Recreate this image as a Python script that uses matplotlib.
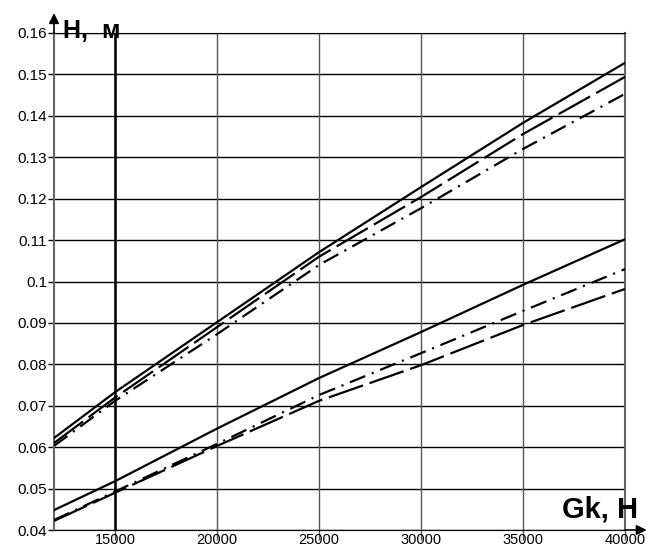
import matplotlib
matplotlib.use("Agg")
import matplotlib.pyplot as plt

plt.rcParams['font.family'] = ['Liberation Sans', 'DejaVu Sans']
plt.rcParams['lines.scale_dashes'] = False

# Data
gk = [12000, 15000, 20000, 25000, 30000, 35000, 40000]

upper_solid   = [0.0622, 0.0733, 0.0902, 0.1071, 0.1228, 0.1383, 0.1528]
upper_dashed  = [0.0610, 0.0720, 0.0890, 0.1060, 0.1204, 0.1356, 0.1494]
upper_dashdot = [0.0603, 0.0712, 0.0873, 0.1040, 0.1177, 0.1320, 0.1453]

lower_solid   = [0.0448, 0.0518, 0.0645, 0.0767, 0.0878, 0.0992, 0.1102]
lower_dashdot = [0.0424, 0.0493, 0.0608, 0.0726, 0.0827, 0.0929, 0.1030]
lower_dashed  = [0.0422, 0.0490, 0.0603, 0.0712, 0.0798, 0.0895, 0.0982]

xticks = [15000, 20000, 25000, 30000, 35000, 40000]
yticks = [0.04, 0.05, 0.06, 0.07, 0.08, 0.09, 0.10, 0.11, 0.12, 0.13, 0.14, 0.15, 0.16]
ytick_labels = ['0.04', '0.05', '0.06', '0.07', '0.08', '0.09', '0.1', '0.11',
                '0.12', '0.13', '0.14', '0.15', '0.16']
xlabel = 'Gk, H'
ylabel = 'H,  м'

W, H = 647, 552
fig = plt.figure(figsize=(W / 100, H / 100), dpi=100)
L, R, T, B = 54, 625, 33, 530
ax = fig.add_axes([L / W, 1 - B / H, (R - L) / W, (B - T) / H])

ax.set_xlim(12000, 40000)
ax.set_ylim(0.04, 0.16)

# grid
for y in yticks:
    ax.axhline(y, color='black', lw=1.0, zorder=1)
for x in xticks:
    ax.axvline(x, color='#555555', lw=1.0, zorder=1)
ax.axvline(15000, color='black', lw=1.8, zorder=1)

lw = 1.6
dashed = (26, 5)
dashdot = (12, 5, 1.5, 5)
ax.plot(gk, upper_solid, color='black', lw=lw, zorder=3)
ax.plot(gk, upper_dashed, color='black', lw=lw, dashes=dashed, zorder=3)
ax.plot(gk, upper_dashdot, color='black', lw=lw, dashes=dashdot, zorder=3)
ax.plot(gk, lower_solid, color='black', lw=lw, zorder=3)
ax.plot(gk, lower_dashdot, color='black', lw=lw, dashes=dashdot, zorder=3)
ax.plot(gk, lower_dashed, color='black', lw=lw, dashes=dashed, zorder=3)

ax.set_xticks(xticks)
ax.set_xticklabels([str(v) for v in xticks])
ax.set_yticks(yticks)
ax.set_yticklabels(ytick_labels)
ax.tick_params(axis='x', direction='out', length=7, width=1, color='#555555',
               labelsize=10.5, pad=-5)
ax.tick_params(axis='y', direction='out', length=4, width=1, color='black',
               labelsize=11, pad=1)

for s in ['left', 'right']:
    ax.spines[s].set_color('#666666')
    ax.spines[s].set_linewidth(1.5)
ax.spines['top'].set_color('black')
ax.spines['bottom'].set_color('black')

# axis arrows
ax.annotate('', xy=(0, 1.04), xytext=(0, 1.0), xycoords='axes fraction',
            arrowprops=dict(arrowstyle='-|>', mutation_scale=15, color='black', lw=1.2,
                            shrinkA=0, shrinkB=0), annotation_clip=False)
ax.annotate('', xy=(1.038, 0), xytext=(1.0, 0), xycoords='axes fraction',
            arrowprops=dict(arrowstyle='-|>', mutation_scale=15, color='black', lw=1.2,
                            shrinkA=0, shrinkB=0), annotation_clip=False)

fig.text(63 / W, 1 - 38 / H, ylabel, fontsize=18, fontweight='bold', ha='left', va='baseline')
fig.text(562 / W, 1 - 518 / H, xlabel, fontsize=21, fontweight='bold', ha='left', va='baseline')

fig.savefig('out.png', dpi=100)
